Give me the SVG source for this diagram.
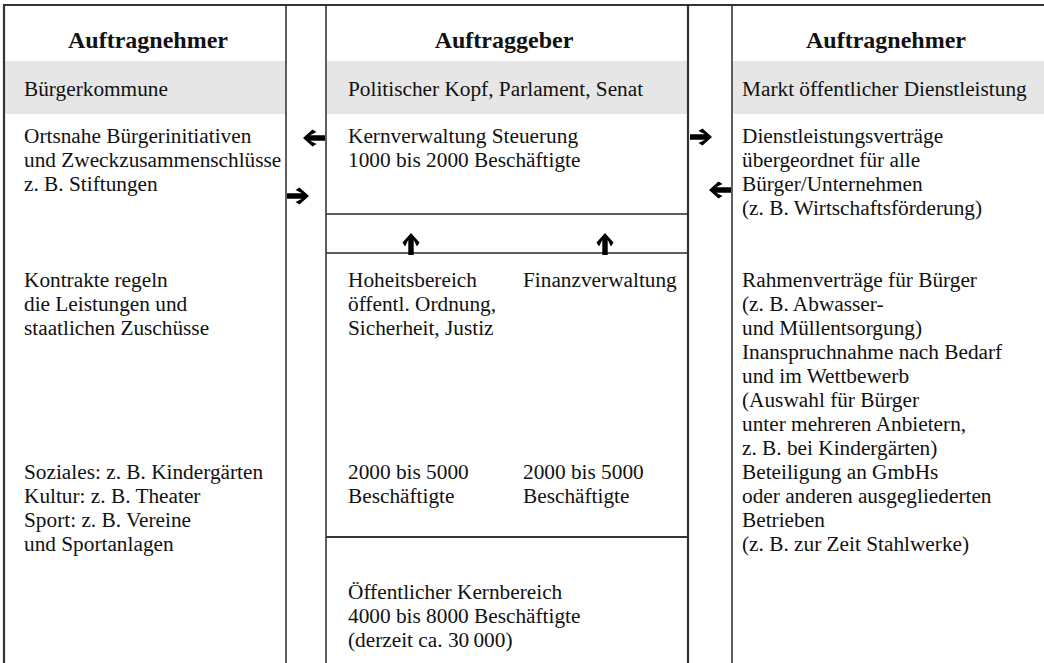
<svg xmlns="http://www.w3.org/2000/svg" xmlns:xlink="http://www.w3.org/1999/xlink" width="1044" height="663" viewBox="0 0 1044 663">
<style>
text{font-family:"Liberation Serif","Times New Roman",serif;font-size:21.3px;fill:#111}
.h{font-weight:bold;font-size:24px;text-anchor:middle}
.band{fill:#e6e6e6}
.ln{stroke:#2a2a2a;stroke-width:1.5;fill:none}
.bd{stroke:#333;stroke-width:2.2;fill:none}
.arr{fill:#000}
</style>
<defs>
<path id="arrow" class="arr" d="M0,0 L-9.5,-8.5 L-13.5,-6 L-7,-2.7 L-22,-2.7 L-22,2.7 L-7,2.7 L-13.5,6 L-9.5,8.5 Z"/>
</defs>
<rect width="1044" height="663" fill="#fff"/>
<g id="bands">
<rect class="band" x="5" y="61" width="281" height="53"/>
<rect class="band" x="327" y="61" width="361" height="53"/>
<rect class="band" x="733" y="61" width="311" height="53"/>
</g>
<g id="frame">
<line class="bd" x1="3" y1="5" x2="1044" y2="5"/>
<line class="bd" x1="4" y1="5" x2="4" y2="663"/>
<line class="ln" x1="286" y1="5" x2="286" y2="663"/>
<line class="ln" x1="326" y1="5" x2="326" y2="663"/>
<line class="bd" x1="688" y1="5" x2="688" y2="663"/>
<line class="ln" x1="732" y1="5" x2="732" y2="663"/>
<line class="ln" x1="326" y1="214" x2="688" y2="214"/>
<line class="ln" x1="326" y1="253" x2="688" y2="253"/>
<line class="bd" x1="326" y1="537" x2="688" y2="537"/>
</g>
<g id="left-column">
<text class="h" x="148" y="48">Auftragnehmer</text>
<text x="24" y="96">Bürgerkommune</text>
<text x="24" y="143">Ortsnahe Bürgerinitiativen</text>
<text x="24" y="167">und Zweckzusammenschlüsse</text>
<text x="24" y="191">z. B. Stiftungen</text>
<text x="24" y="287">Kontrakte regeln</text>
<text x="24" y="311">die Leistungen und</text>
<text x="24" y="335">staatlichen Zuschüsse</text>
<text x="24" y="479">Soziales: z. B. Kindergärten</text>
<text x="24" y="503">Kultur: z. B. Theater</text>
<text x="24" y="527">Sport: z. B. Vereine</text>
<text x="24" y="551">und Sportanlagen</text>
</g>
<g id="middle-column">
<text class="h" x="504" y="48">Auftraggeber</text>
<text x="348" y="96">Politischer Kopf, Parlament, Senat</text>
</g>
<g id="kernverwaltung">
<text x="348" y="143">Kernverwaltung Steuerung</text>
<text x="348" y="167">1000 bis 2000 Beschäftigte</text>
</g>
<g id="hoheitsbereich">
<text x="348" y="287">Hoheitsbereich</text>
<text x="348" y="311">öffentl. Ordnung,</text>
<text x="348" y="335">Sicherheit, Justiz</text>
<text x="348" y="479">2000 bis 5000</text>
<text x="348" y="503">Beschäftigte</text>
</g>
<g id="finanzverwaltung">
<text x="523" y="287">Finanzverwaltung</text>
<text x="523" y="479">2000 bis 5000</text>
<text x="523" y="503">Beschäftigte</text>
</g>
<g id="kernbereich">
<text x="348" y="599">Öffentlicher Kernbereich</text>
<text x="348" y="623">4000 bis 8000 Beschäftigte</text>
<text x="348" y="647">(derzeit ca. 30&#8201;000)</text>
</g>
<g id="right-column">
<text class="h" x="886" y="48">Auftragnehmer</text>
<text x="742" y="96">Markt öffentlicher Dienstleistung</text>
<text x="742" y="143">Dienstleistungsverträge</text>
<text x="742" y="167">übergeordnet für alle</text>
<text x="742" y="191">Bürger/Unternehmen</text>
<text x="742" y="215">(z. B. Wirtschaftsförderung)</text>
<text x="742" y="287">Rahmenverträge für Bürger</text>
<text x="742" y="311">(z. B. Abwasser-</text>
<text x="742" y="335">und Müllentsorgung)</text>
<text x="742" y="359">Inanspruchnahme nach Bedarf</text>
<text x="742" y="383">und im Wettbewerb</text>
<text x="742" y="407">(Auswahl für Bürger</text>
<text x="742" y="431">unter mehreren Anbietern,</text>
<text x="742" y="455">z. B. bei Kindergärten)</text>
<text x="742" y="479">Beteiligung an GmbHs</text>
<text x="742" y="503">oder anderen ausgegliederten</text>
<text x="742" y="527">Betrieben</text>
<text x="742" y="551">(z. B. zur Zeit Stahlwerke)</text>
</g>
<g id="connectors">
<use xlink:href="#arrow" transform="translate(303,138) rotate(180)"/>
<use xlink:href="#arrow" transform="translate(309,196)"/>
<use xlink:href="#arrow" transform="translate(712,137)"/>
<use xlink:href="#arrow" transform="translate(709,190) rotate(180)"/>
<use xlink:href="#arrow" transform="translate(411,233) rotate(-90)"/>
<use xlink:href="#arrow" transform="translate(605,233) rotate(-90)"/>
</g>
</svg>
